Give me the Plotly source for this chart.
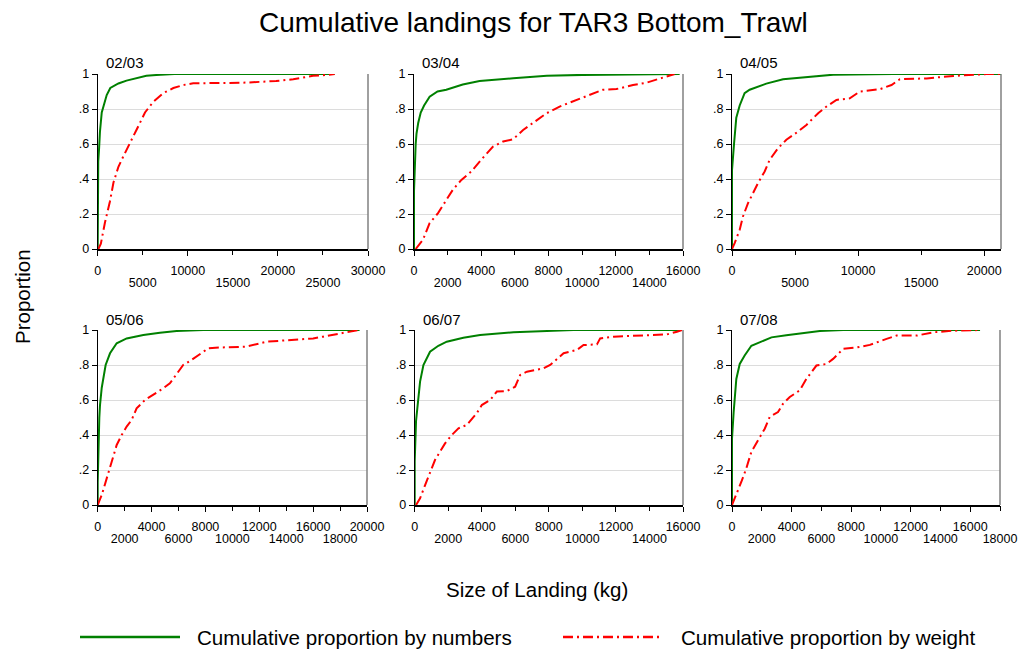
import plotly.graph_objects as go

W, H = 1019, 650

# ---------------- data ----------------
seasons = ["02/03", "03/04", "04/05", "05/06", "06/07", "07/08"]
x_max = [30000, 16000, 21330, 20000, 16000, 18000]
even_ticks = [
    [0, 10000, 20000, 30000],
    [0, 4000, 8000, 12000, 16000],
    [0, 10000, 20000],
    [0, 4000, 8000, 12000, 16000, 20000],
    [0, 4000, 8000, 12000, 16000],
    [0, 4000, 8000, 12000, 16000],
]
odd_ticks = [
    [5000, 15000, 25000],
    [2000, 6000, 10000, 14000],
    [5000, 15000],
    [2000, 6000, 10000, 14000, 18000],
    [2000, 6000, 10000, 14000],
    [2000, 6000, 10000, 14000, 18000],
]
y_ticks = [0, 0.2, 0.4, 0.6, 0.8, 1.0]
y_tick_labels = ["0", ".2", ".4", ".6", ".8", "1"]

# 02/03
num_x_0203 = [0, 0, 60, 150, 250, 450, 650, 1000, 1400, 2300, 3200, 4500, 5400, 6500, 8500, 26300]
num_y_0203 = [0, 0.18, 0.50, 0.57, 0.67, 0.78, 0.82, 0.88, 0.92, 0.946, 0.962, 0.98, 0.99, 0.994, 1.0, 1.0]
wt_x_0203 = [80, 350, 800, 1350, 1750, 2300, 2850, 3400, 4300, 5250, 6150, 7250, 8400, 9500, 10600, 16100, 19800, 21700, 23900, 25500, 26300]
wt_y_0203 = [0, 0.03, 0.15, 0.27, 0.38, 0.47, 0.53, 0.59, 0.68, 0.78, 0.84, 0.89, 0.92, 0.937, 0.947, 0.95, 0.96, 0.97, 0.99, 0.995, 1.0]

# 03/04
num_x_0304 = [0, 0, 100, 150, 250, 400, 600, 930, 1400, 1920, 2900, 3900, 5900, 7900, 10000, 14000, 15800]
num_y_0304 = [0, 0.33, 0.60, 0.66, 0.72, 0.78, 0.82, 0.87, 0.90, 0.91, 0.94, 0.96, 0.976, 0.99, 0.995, 1.0, 1.0]
wt_x_0304 = [100, 535, 930, 1430, 1920, 2320, 2820, 3410, 4000, 4700, 5300, 5890, 6490, 7080, 7870, 8660, 9460, 10250, 11240, 12040, 13030, 13820, 14610, 15500]
wt_y_0304 = [0, 0.053, 0.148, 0.205, 0.28, 0.34, 0.395, 0.443, 0.51, 0.585, 0.614, 0.627, 0.68, 0.72, 0.775, 0.814, 0.843, 0.87, 0.91, 0.914, 0.937, 0.95, 0.975, 1.0]

# 04/05
num_x_0405 = [0, 0, 160, 340, 610, 1000, 1400, 2720, 4050, 5370, 8020, 12780, 21330]
num_y_0405 = [0, 0.45, 0.60, 0.75, 0.82, 0.89, 0.91, 0.945, 0.97, 0.98, 0.996, 1.0, 1.0]
wt_x_0405 = [0, 210, 610, 870, 1270, 1670, 2060, 2590, 2990, 3650, 4310, 5240, 5900, 6830, 7490, 8280, 9340, 10130, 11720, 12650, 13310, 15430, 17540, 20190, 21330]
wt_y_0405 = [0, 0.034, 0.11, 0.186, 0.262, 0.32, 0.376, 0.443, 0.51, 0.576, 0.624, 0.671, 0.709, 0.776, 0.814, 0.852, 0.861, 0.90, 0.913, 0.937, 0.97, 0.975, 0.989, 1.0, 1.0]

# 05/06
num_x_0506 = [0, 0, 120, 170, 300, 420, 590, 915, 1410, 2150, 3390, 4620, 5860, 7840, 19450]
num_y_0506 = [0, 0.13, 0.50, 0.57, 0.67, 0.72, 0.80, 0.867, 0.924, 0.952, 0.971, 0.984, 0.994, 1.0, 1.0]
wt_x_0506 = [0, 300, 670, 1040, 1410, 1780, 2150, 2520, 2890, 3510, 4130, 4870, 5360, 5740, 6350, 6970, 7840, 8210, 9070, 11050, 12530, 14510, 16000, 16740, 17720, 18470, 19400]
wt_y_0506 = [0, 0.057, 0.152, 0.248, 0.343, 0.40, 0.448, 0.486, 0.552, 0.60, 0.629, 0.667, 0.695, 0.733, 0.80, 0.829, 0.876, 0.895, 0.90, 0.905, 0.933, 0.943, 0.952, 0.962, 0.976, 0.99, 1.0]

# 06/07
num_x_0607 = [0, 0, 80, 160, 320, 520, 915, 1410, 1910, 2900, 3900, 5890, 7880, 9470, 15940]
num_y_0607 = [0, 0.25, 0.48, 0.57, 0.705, 0.80, 0.876, 0.91, 0.933, 0.956, 0.971, 0.987, 0.996, 1.0, 1.0]
wt_x_0607 = [80, 320, 620, 915, 1210, 1510, 1810, 2210, 2610, 3100, 3700, 4000, 4500, 4900, 5490, 5990, 6290, 6690, 7680, 8080, 8880, 9670, 10070, 10870, 11060, 11860, 13850, 15040, 15640, 15940]
wt_y_0607 = [0, 0.038, 0.114, 0.19, 0.257, 0.305, 0.352, 0.40, 0.438, 0.457, 0.524, 0.571, 0.60, 0.648, 0.651, 0.676, 0.743, 0.762, 0.781, 0.80, 0.867, 0.886, 0.914, 0.918, 0.952, 0.962, 0.971, 0.975, 0.99, 1.0]

# 07/08
num_x_0708 = [0, 0, 110, 180, 290, 520, 850, 1300, 2090, 2650, 3650, 5000, 5900, 7470, 16660]
num_y_0708 = [0, 0.38, 0.53, 0.626, 0.72, 0.806, 0.854, 0.91, 0.94, 0.958, 0.97, 0.987, 0.994, 1.0, 1.0]
wt_x_0708 = [0, 290, 630, 960, 1300, 1750, 2200, 2530, 3090, 3430, 3880, 4550, 5000, 5670, 6350, 6790, 7470, 8360, 9260, 10380, 11050, 12400, 13520, 14870, 16660]
wt_y_0708 = [0, 0.057, 0.133, 0.209, 0.304, 0.37, 0.436, 0.503, 0.531, 0.579, 0.617, 0.655, 0.721, 0.797, 0.806, 0.835, 0.892, 0.90, 0.915, 0.949, 0.968, 0.968, 0.987, 0.996, 1.0]

numbers_x = [num_x_0203, num_x_0304, num_x_0405, num_x_0506, num_x_0607, num_x_0708]
numbers_y = [num_y_0203, num_y_0304, num_y_0405, num_y_0506, num_y_0607, num_y_0708]
weight_x = [wt_x_0203, wt_x_0304, wt_x_0405, wt_x_0506, wt_x_0607, wt_x_0708]
weight_y = [wt_y_0203, wt_y_0304, wt_y_0405, wt_y_0506, wt_y_0607, wt_y_0708]

series_names = ["Cumulative proportion by numbers", "Cumulative proportion by weight"]

# ---------------- styling / layout ----------------
GREEN = "#008000"
RED = "#ff0000"
DASHDOT = "10px,4px,2px,4px"
FONT = "Arial, Liberation Sans, sans-serif"

# panel pixel boxes (left, right, top, bottom)
boxes = [
    (97.7, 368, 74, 249), (414, 683, 74, 249), (732, 1001, 74, 249),
    (97.7, 367, 330, 505), (414.7, 683, 330, 505), (732, 1000, 330, 505),
]

fig = go.Figure()
layout = dict(
    width=W, height=H, margin=dict(l=0, r=0, t=0, b=0, autoexpand=False),
    paper_bgcolor="white", plot_bgcolor="white", showlegend=False,
    font=dict(family=FONT, color="black"),
)
shapes = []
annotations = []

for i in range(6):
    n = i + 1
    xa = "x" if n == 1 else f"x{n}"
    ya = "y" if n == 1 else f"y{n}"
    ov = f"x{n + 6}"
    l, r, t, b = boxes[i]
    xdom = [l / W, r / W]
    ydom = [1 - b / H, 1 - t / H]

    fig.add_trace(go.Scatter(x=numbers_x[i], y=numbers_y[i], mode="lines",
                             line=dict(color=GREEN, width=2), name=series_names[0],
                             xaxis=xa, yaxis=ya, hoverinfo="x+y"))
    fig.add_trace(go.Scatter(x=weight_x[i], y=weight_y[i], mode="lines",
                             line=dict(color=RED, width=2, dash=DASHDOT), name=series_names[1],
                             xaxis=xa, yaxis=ya, hoverinfo="x+y"))
    # carrier trace for the staggered (second row) tick axis
    fig.add_trace(go.Scatter(x=[None], y=[None], mode="lines", xaxis=ov, yaxis=ya,
                             hoverinfo="skip", showlegend=False))

    layout[f"xaxis{n}"] = dict(
        domain=xdom, anchor=ya, range=[0, x_max[i]], automargin=False,
        tickmode="array", tickvals=even_ticks[i], ticktext=[str(v) for v in even_ticks[i]],
        ticks="outside", ticklen=5, tickwidth=1, tickcolor="black",
        showline=True, linecolor="black", linewidth=2,
        showgrid=False, zeroline=False,
        tickfont=dict(size=12.5, color="black", family=FONT),
        ticklabelstandoff=4,
    )
    layout[f"xaxis{n + 6}"] = dict(
        overlaying=xa, anchor=ya, range=[0, x_max[i]], side="bottom", automargin=False,
        tickmode="array", tickvals=odd_ticks[i], ticktext=[str(v) for v in odd_ticks[i]],
        ticks="outside", ticklen=5, tickwidth=1, tickcolor="black",
        showline=False, showgrid=False, zeroline=False,
        tickfont=dict(size=12.5, color="black", family=FONT),
        ticklabelstandoff=17,
    )
    layout[f"yaxis{n}"] = dict(
        domain=ydom, anchor=xa, range=[0, 1], automargin=False,
        tickmode="array", tickvals=y_ticks, ticktext=y_tick_labels,
        ticks="outside", ticklen=5, tickwidth=1, tickcolor="black",
        showline=True, linecolor="black", linewidth=1,
        showgrid=True, gridcolor="#dcdcdc", gridwidth=1, zeroline=False,
        tickfont=dict(size=12.5, color="black", family=FONT),
    )
    # right border line of the panel
    shapes.append(dict(type="line", xref=f"{xa} domain", yref=f"{ya} domain",
                       x0=1, x1=1, y0=0, y1=1, line=dict(color="#808080", width=1.5)))
    # season label
    annotations.append(dict(text=seasons[i], xref="paper", yref="paper",
                            x=(l + 6) / W, y=1 - (t - 11) / H, xanchor="left", yanchor="middle",
                            showarrow=False, font=dict(size=15, color="black", family=FONT)))

# titles
annotations.append(dict(text="Cumulative landings for TAR3 Bottom_Trawl", xref="paper", yref="paper",
                        x=533 / W, y=1 - 23 / H, xanchor="center", yanchor="middle", showarrow=False,
                        font=dict(size=28, color="black", family=FONT)))
annotations.append(dict(text="Proportion", xref="paper", yref="paper", textangle=-90,
                        x=22 / W, y=1 - 297 / H, xanchor="center", yanchor="middle", showarrow=False,
                        font=dict(size=20.5, color="black", family=FONT)))
annotations.append(dict(text="Size of Landing (kg)", xref="paper", yref="paper",
                        x=537 / W, y=1 - 589 / H, xanchor="center", yanchor="middle", showarrow=False,
                        font=dict(size=20.5, color="black", family=FONT)))

# legend (drawn as keys + labels)
ly = 1 - 637 / H
shapes.append(dict(type="line", xref="paper", yref="paper", x0=80 / W, x1=180 / W, y0=ly, y1=ly,
                   line=dict(color=GREEN, width=2.5)))
shapes.append(dict(type="line", xref="paper", yref="paper", x0=563 / W, x1=663 / W, y0=ly, y1=ly,
                   line=dict(color=RED, width=2.5, dash=DASHDOT)))
annotations.append(dict(text=series_names[0], xref="paper", yref="paper", x=195 / W, y=ly,
                        xanchor="left", yanchor="middle", showarrow=False,
                        font=dict(size=20.6, color="black", family=FONT)))
annotations.append(dict(text=series_names[1], xref="paper", yref="paper", x=679 / W, y=ly,
                        xanchor="left", yanchor="middle", showarrow=False,
                        font=dict(size=20.6, color="black", family=FONT)))

layout["shapes"] = shapes
layout["annotations"] = annotations
fig.update_layout(**layout)
fig.write_html("out.html")
